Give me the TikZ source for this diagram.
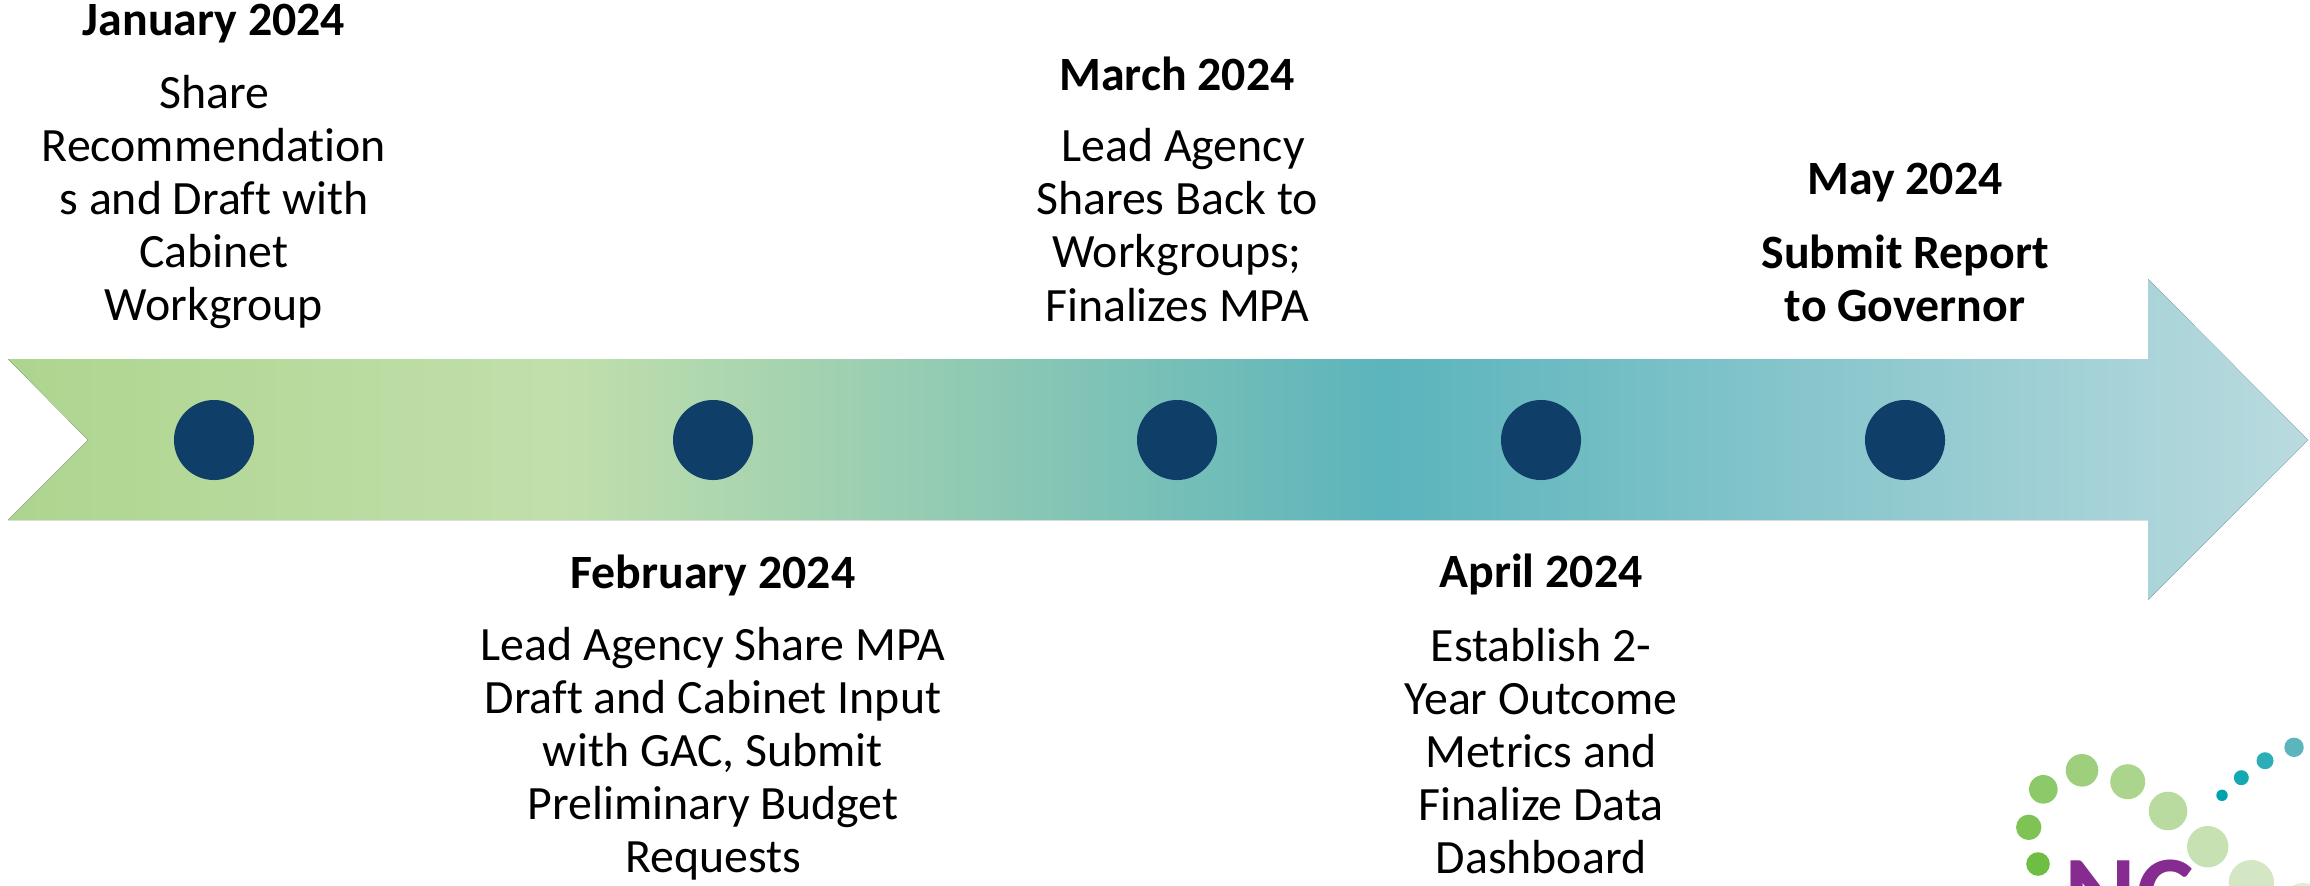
\documentclass[tikz,border=0pt]{standalone}
\usepackage{fontspec}
\setmainfont[Ligatures=NoCommon]{Carlito}
\usetikzlibrary{calc}
\definecolor{dotBlue}{HTML}{0F3F69}
\definecolor{logoPurple}{HTML}{862B8F}
\definecolor{bandGreenA}{HTML}{ADD58F}
\definecolor{bandGreenB}{HTML}{C1DFAB}
\definecolor{bandTealA}{HTML}{5CB4BC}
\definecolor{bandTealB}{HTML}{BADBDF}
\pgfdeclarehorizontalshading{timelineBand}{100bp}{
    color(0bp)=(bandGreenA);
    color(25bp)=(bandGreenA);
    color(37bp)=(bandGreenB);
    color(55bp)=(bandTealA);
    color(75bp)=(bandTealB);
    color(100bp)=(bandTealB)
}
\tikzset{
    dateLabel/.style={font=\fontsize{13.6}{15.1}\selectfont\bfseries, align=center},
    bodyLabel/.style={font=\fontsize{13.6}{15.1}\selectfont, align=center},
    eventDot/.style={circle, fill=dotBlue, minimum size=0.8cm, inner sep=0pt}
}
\begin{document}
\begin{tikzpicture}[x=0.01cm, y=-0.01cm]
    \useasboundingbox (0, 0) rectangle (2310, 885);
    \clip (0, 0) rectangle (2310, 885);
    \fill[shading=timelineBand] (8, 359) -- (2148, 359) -- (2148, 279) -- (2308, 440) -- (2148, 600) -- (2148, 520) -- (8, 520) -- (88, 440) -- cycle;
    \node[eventDot] (dotJan) at (214, 440) {};
    \node[eventDot] (dotFeb) at (713, 440) {};
    \node[eventDot] (dotMar) at (1177, 440) {};
    \node[eventDot] (dotApr) at (1541, 440) {};
    \node[eventDot] (dotMay) at (1905, 440) {};
    \node[dateLabel] (dateJan) at (214, 24) {January 2024};
    \node[bodyLabel] (textJan) at (214, 202) {Share\\Recommendation\\s and Draft with\\Cabinet\\Workgroup};
    \node[dateLabel] (dateFeb) at (713, 575) {February 2024};
    \node[bodyLabel] (textFeb) at (713, 754) {Lead Agency Share MPA\\Draft and Cabinet Input\\with GAC, Submit\\Preliminary Budget\\Requests};
    \node[dateLabel] (dateMar) at (1177, 74) {March 2024};
    \node[bodyLabel] (textMar) at (1177, 225) {\hspace*{0.25em}Lead Agency\\Shares Back to\\Workgroups;\\Finalizes MPA};
    \node[dateLabel] (dateApr) at (1541, 574) {April 2024};
    \node[bodyLabel] (textApr) at (1541, 751) {Establish 2-\\Year Outcome\\Metrics and\\Finalize Data\\Dashboard};
    \node[dateLabel] (dateMay) at (1905, 183) {May 2024};
    \node[dateLabel] (textMay) at (1905, 278) {Submit Report\\to Governor};
    \foreach \px/\py/\pr/\pc in {2222/795.3/5.7/00A3AD, 2241.3/777.7/7.5/14A8B0, 2265/760.7/8.5/2DAEB6, 2294/747.3/9.7/5BB5BC,
        2038/864/11.8/6FBE44, 2028.7/827.3/12.7/7FC355, 2043.3/789.3/14.3/8CC968, 2082/770.3/16.3/9DCF7D, 2127.7/781.7/17.5/ABD58C,
        2168/811/19.3/B9DBA0, 2207.7/846.7/20.7/C7E1B3, 2251.3/882.7/22.7/D4E7C5, 2303/905/22/E0EED7} {
        \definecolor{logoDot}{HTML}{\pc}
        \fill[logoDot] (\px, \py) circle[radius=\pr];
    }
    \node[text=logoPurple, font=\fontsize{31}{31}\selectfont\bfseries, anchor=base west, inner sep=0pt] (logoText) at (2064, 931) {NC};
\end{tikzpicture}
\end{document}
